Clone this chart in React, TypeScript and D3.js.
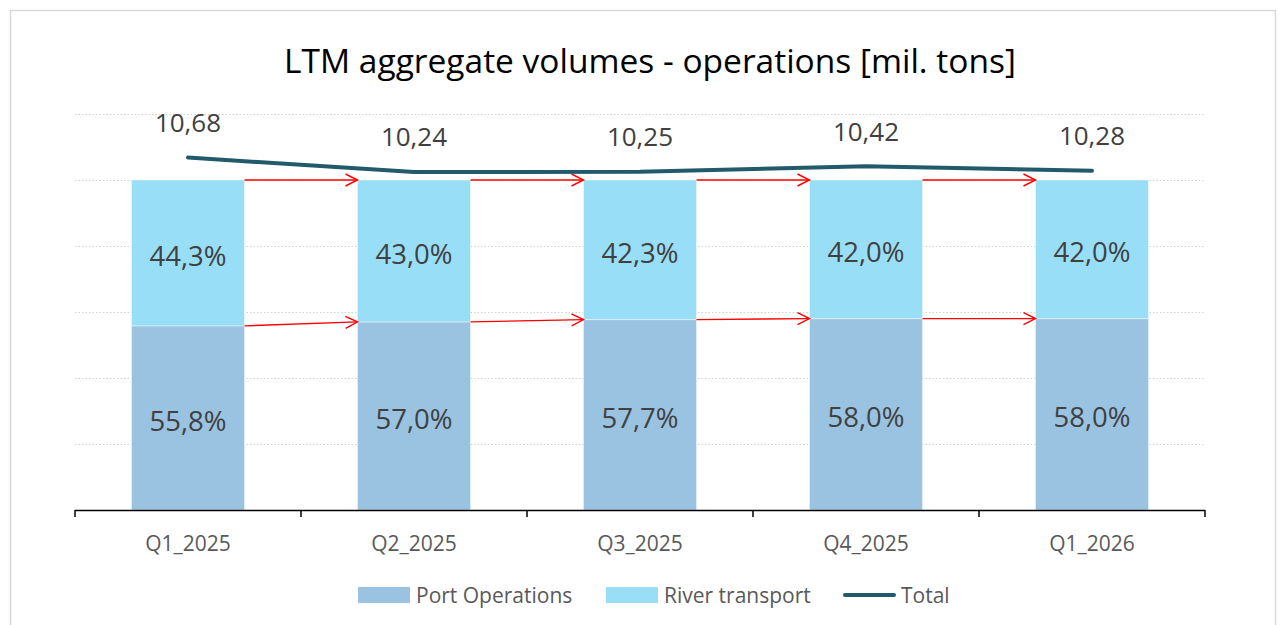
import React from 'react';
import * as d3 from 'd3';

const categories = ['Q1_2025', 'Q2_2025', 'Q3_2025', 'Q4_2025', 'Q1_2026'];
const portShare = [55.8, 57.0, 57.7, 58.0, 58.0];
const riverShare = [44.3, 43.0, 42.3, 42.0, 42.0];
const totals = [10.68, 10.24, 10.25, 10.42, 10.28];
const gridTicks = [0, 20, 40, 60, 80, 100, 120];
const legendItems = [
    { label: 'Port Operations', kind: 'rect', color: '#9AC3E2', x: 358 },
    { label: 'River transport', kind: 'rect', color: '#99DEF7', x: 606 },
    { label: 'Total', kind: 'line', color: '#215A6B', x: 843 },
];

const fmt = (v: number, d: number) => v.toFixed(d).replace('.', ',');

export default function App() {
    const width = 1279;
    const height = 625;
    const margin = { top: 114, right: 74, bottom: 115, left: 75 };
    const font = '"Open Sans", "Noto Sans", sans-serif';

    const x = d3
        .scaleBand()
        .domain(categories)
        .range([margin.left, width - margin.right])
        .paddingInner(0.5)
        .paddingOuter(0.25);

    const yPct = d3
        .scaleLinear()
        .domain([0, 120])
        .range([height - margin.bottom, margin.top]);

    const yTot = d3
        .scaleLinear()
        .domain([0, 12])
        .range([height - margin.bottom, margin.top]);

    const step = x.step();
    const bw = x.bandwidth();
    const baseY = yPct(0);
    const cx = (c: string) => x(c)! + bw / 2;

    const line = d3
        .line<number>()
        .x((_, i) => cx(categories[i]))
        .y((d) => yTot(d));

    const tickXs = d3.range(categories.length + 1).map((i) => margin.left + i * step);

    return (
        <svg
            width={width}
            height={height}
            style={{ position: 'absolute', left: 0, top: 0, background: '#fff' }}
        >
            <defs>
                <marker
                    id="arr"
                    markerUnits="userSpaceOnUse"
                    markerWidth={16}
                    markerHeight={16}
                    refX={13}
                    refY={7}
                    orient="auto"
                >
                    <path d="M1,1 L13,7 L1,13" fill="none" stroke="#FF0000" strokeWidth={1.4} />
                </marker>
            </defs>
            <rect x={10.5} y={10.5} width={1265} height={640} fill="#fff" stroke="#D9D9D9" strokeWidth={1.5} />

            <text
                x={650}
                y={73}
                textAnchor="middle"
                fontFamily={font}
                fontSize={33.5}
                fill="#000"
            >
                LTM aggregate volumes - operations [mil. tons]
            </text>

            {gridTicks.slice(1).map((t) => (
                <line
                    key={t}
                    x1={margin.left}
                    x2={width - margin.right}
                    y1={yPct(t) + 0.5}
                    y2={yPct(t) + 0.5}
                    stroke="#D0D0D0"
                    strokeDasharray="1.5,2"
                />
            ))}

            {categories.map((c, i) => (
                <g key={c}>
                    <rect
                        x={x(c)}
                        y={yPct(portShare[i])}
                        width={bw}
                        height={baseY - yPct(portShare[i])}
                        fill="#9AC3E2"
                        stroke="#fff"
                        strokeOpacity={0.4}
                        strokeWidth={1}
                    />
                    <rect
                        x={x(c)}
                        y={yPct(100)}
                        width={bw}
                        height={yPct(portShare[i]) - yPct(100)}
                        fill="#99DEF7"
                        stroke="#fff"
                        strokeOpacity={0.4}
                        strokeWidth={1}
                    />
                    <text
                        x={cx(c)}
                        y={(yPct(portShare[i]) + baseY) / 2 + 3}
                        dy="0.36em"
                        textAnchor="middle"
                        fontFamily={font}
                        fontSize={27.5}
                        fill="#404040"
                    >
                        {fmt(portShare[i], 1)}%
                    </text>
                    <text
                        x={cx(c)}
                        y={(yPct(portShare[i]) + yPct(100)) / 2 + 3}
                        dy="0.36em"
                        textAnchor="middle"
                        fontFamily={font}
                        fontSize={27.5}
                        fill="#404040"
                    >
                        {fmt(riverShare[i], 1)}%
                    </text>
                    <text
                        x={cx(c)}
                        y={yTot(totals[i]) - 35}
                        dy="0.36em"
                        textAnchor="middle"
                        fontFamily={font}
                        fontSize={26}
                        fill="#404040"
                    >
                        {fmt(totals[i], 2)}
                    </text>
                </g>
            ))}

            {categories.slice(0, -1).map((c, i) => (
                <g key={'a' + c}>
                    <line
                        x1={x(c)! + bw}
                        y1={yPct(100)}
                        x2={x(categories[i + 1])!}
                        y2={yPct(100)}
                        stroke="#FF0000"
                        strokeWidth={1.4}
                        markerEnd="url(#arr)"
                    />
                    <line
                        x1={x(c)! + bw}
                        y1={yPct(portShare[i])}
                        x2={x(categories[i + 1])!}
                        y2={yPct(portShare[i + 1])}
                        stroke="#FF0000"
                        strokeWidth={1.4}
                        markerEnd="url(#arr)"
                    />
                </g>
            ))}

            <path
                d={line(totals) ?? ''}
                fill="none"
                stroke="#215A6B"
                strokeWidth={4}
                strokeLinecap="round"
                strokeLinejoin="round"
            />

            <line x1={margin.left} x2={width - margin.right} y1={baseY + 0.5} y2={baseY + 0.5} stroke="#000" strokeWidth={1.5} />
            {tickXs.map((tx) => (
                <line key={tx} x1={tx} x2={tx} y1={baseY} y2={baseY + 7} stroke="#000" strokeWidth={1.5} />
            ))}
            {categories.map((c) => (
                <text
                    key={'l' + c}
                    x={cx(c)}
                    y={543}
                    dy="0.36em"
                    textAnchor="middle"
                    fontFamily={font}
                    fontSize={21}
                    fill="#595959"
                >
                    {c}
                </text>
            ))}

            {legendItems.map((it) => (
                <g key={it.label}>
                    {it.kind === 'rect' ? (
                        <rect x={it.x} y={587} width={52} height={16} fill={it.color} />
                    ) : (
                        <line x1={it.x + 2} x2={it.x + 51} y1={595} y2={595} stroke={it.color} strokeWidth={4} strokeLinecap="round" />
                    )}
                    <text
                        x={it.x + 58}
                        y={595}
                        dy="0.36em"
                        fontFamily={font}
                        fontSize={21}
                        fill="#595959"
                    >
                        {it.label}
                    </text>
                </g>
            ))}
        </svg>
    );
}
